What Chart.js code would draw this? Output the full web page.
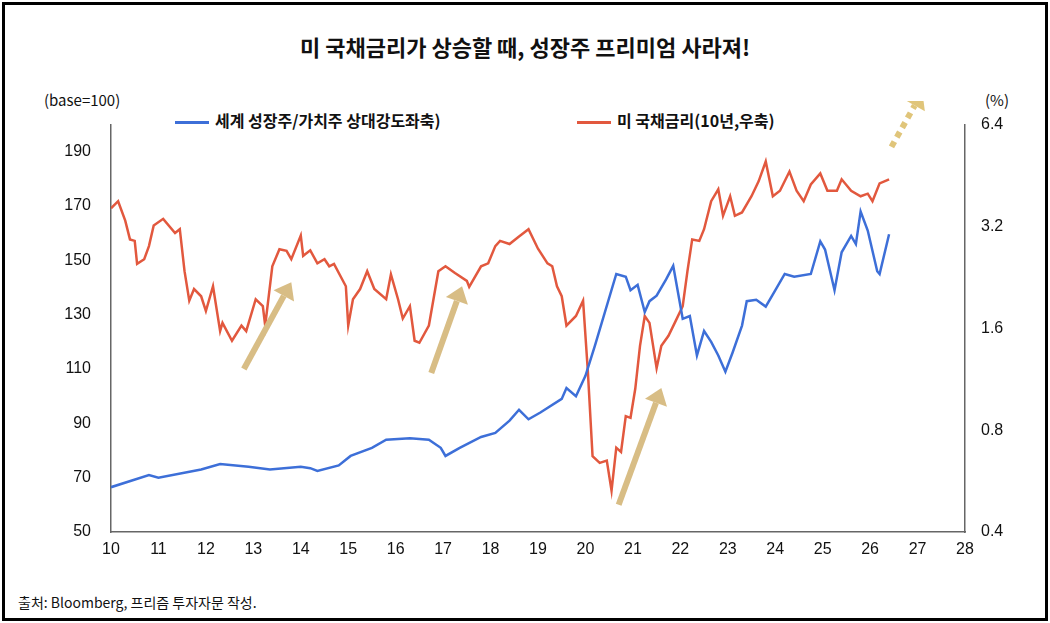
<!DOCTYPE html>
<html>
<head>
<meta charset="utf-8">
<script src="https://cdn.jsdelivr.net/npm/chart.js@4"></script>
<style>
  body { margin: 0; background: #fff; font-family: "Noto Sans CJK KR", "Noto Sans", sans-serif; }
  #frame { position: absolute; left: 2px; top: 2px; width: 1040px; height: 613px; border: 3px solid #000; }
  .txt { position: absolute; color: #111; white-space: nowrap; }
  #title { left: 0; width: 1050px; top: 30px; text-align: center; font-size: 22px; font-weight: bold; }
  #chartBox { position: absolute; left: 0; top: 101px; width: 1050px; height: 461px; }
  .leg { position: absolute; top: 108px; font-size: 16px; font-weight: bold; }
  .leg i { display: inline-block; width: 34px; height: 3px; vertical-align: middle; margin-right: 6px; }
</style>
</head>
<body>
<div id="frame"></div>
<div id="title" class="txt">미 국채금리가 상승할 때, 성장주 프리미엄 사라져!</div>
<div class="txt" style="left:44px;top:89px;font-size:15px">(base=100)</div>
<div class="txt" style="left:985px;top:89px;font-size:15px">(%)</div>
<div class="txt leg" style="left:175px"><i style="background:#3d6fd8"></i>세계 성장주/가치주 상대강도좌축)</div>
<div class="txt leg" style="left:577px"><i style="background:#e2583e"></i>미 국채금리(10년,우축)</div>
<div class="txt" style="left:18px;top:592px;font-size:14px">출처: Bloomberg, 프리즘 투자자문 작성.</div>
<div id="chartBox"><canvas id="c"></canvas></div>
<script>
const growthYears = [10.0, 10.8, 11.0, 11.9, 12.3, 12.9, 13.35, 14.0, 14.2, 14.35, 14.8, 15.05, 15.5, 15.8, 16.3, 16.7, 16.95, 17.05, 17.35, 17.8, 18.1, 18.4, 18.6, 18.8, 19.05, 19.5, 19.6, 19.8, 20.0, 20.2, 20.65, 20.85, 20.95, 21.1, 21.25, 21.35, 21.5, 21.7, 21.85, 22.05, 22.2, 22.35, 22.5, 22.65, 22.8, 22.95, 23.1, 23.3, 23.4, 23.6, 23.8, 24.0, 24.2, 24.4, 24.75, 24.95, 25.05, 25.25, 25.4, 25.6, 25.7, 25.8, 25.95, 26.15, 26.2, 26.4];
const growthValues = [66.5, 71, 70, 73, 75, 74, 73, 74, 73.5, 72.5, 74.5, 78, 81, 84, 84.5, 84, 81, 78, 81, 85, 86.5, 91, 95, 91.5, 94, 99, 103, 100, 107.5, 118.6, 145, 144, 139, 141, 131, 135, 137, 143, 148, 128.5, 129.5, 115, 124, 120, 115, 109, 116, 126, 135, 135.5, 133, 139, 145, 144, 145, 157, 154, 139, 153, 159, 156, 168, 161, 146, 145, 159.6];

const rateYears = [10.0, 10.15, 10.3, 10.4, 10.5, 10.55, 10.7, 10.8, 10.9, 11.1, 11.35, 11.45, 11.55, 11.65, 11.75, 11.9, 12.0, 12.15, 12.3, 12.35, 12.55, 12.75, 12.85, 13.05, 13.2, 13.25, 13.4, 13.55, 13.7, 13.8, 14.0, 14.05, 14.2, 14.35, 14.5, 14.6, 14.7, 14.95, 15.0, 15.1, 15.25, 15.4, 15.55, 15.8, 15.9, 16.05, 16.15, 16.3, 16.4, 16.5, 16.7, 16.9, 17.05, 17.25, 17.5, 17.55, 17.8, 17.95, 18.1, 18.2, 18.4, 18.6, 18.8, 19.0, 19.2, 19.3, 19.4, 19.5, 19.6, 19.8, 19.95, 20.05, 20.15, 20.3, 20.45, 20.55, 20.65, 20.75, 20.85, 20.95, 21.05, 21.15, 21.25, 21.35, 21.5, 21.6, 21.75, 21.9, 22.05, 22.15, 22.25, 22.4, 22.5, 22.65, 22.8, 22.9, 23.05, 23.15, 23.3, 23.5, 23.65, 23.8, 23.95, 24.1, 24.3, 24.45, 24.6, 24.75, 24.95, 25.1, 25.3, 25.4, 25.6, 25.8, 25.95, 26.05, 26.2, 26.4];
const rateValues = [3.62, 3.80, 3.33, 2.93, 2.90, 2.48, 2.56, 2.80, 3.22, 3.37, 3.06, 3.14, 2.36, 1.93, 2.09, 1.99, 1.80, 2.13, 1.57, 1.66, 1.47, 1.63, 1.57, 1.95, 1.86, 1.63, 2.44, 2.74, 2.71, 2.56, 3.01, 2.62, 2.72, 2.49, 2.56, 2.44, 2.48, 2.13, 1.63, 1.95, 2.09, 2.36, 2.09, 1.95, 2.31, 1.95, 1.71, 1.86, 1.47, 1.45, 1.63, 2.36, 2.44, 2.33, 2.21, 2.12, 2.44, 2.49, 2.80, 2.90, 2.84, 2.99, 3.14, 2.75, 2.49, 2.44, 2.13, 1.99, 1.63, 1.74, 1.93, 1.20, 0.67, 0.64, 0.65, 0.53, 0.71, 0.69, 0.88, 0.87, 1.06, 1.42, 1.74, 1.66, 1.22, 1.42, 1.52, 1.68, 1.86, 2.36, 2.93, 2.90, 3.14, 3.80, 4.12, 3.44, 3.93, 3.44, 3.52, 3.93, 4.35, 4.98, 3.93, 4.08, 4.65, 4.08, 3.80, 4.26, 4.59, 4.08, 4.08, 4.41, 4.08, 3.93, 4.00, 3.80, 4.29, 4.41];

const xTicks = [10, 11, 12, 13, 14, 15, 16, 17, 18, 19, 20, 21, 22, 23, 24, 25, 26, 27, 28];
const rateTicks = [0.4, 0.8, 1.6, 3.2, 6.4];

// arrows in data units of the left axis: [x0, y0, x1, y1]
const upArrows = [[12.8, 110, 13.8, 142], [16.75, 108.5, 17.4, 140.5], [20.7, 60, 21.6, 103]];
const dottedArrow = [26.45, 5.5, 27.1, 8.0]; // right axis units

const drawArrow = (ctx, x0, y0, x1, y1, color, width, dash) => {
    const ang = Math.atan2(y1 - y0, x1 - x0);
    const head = width * 2.6;
    const bx = x1 - Math.cos(ang) * head, by = y1 - Math.sin(ang) * head;
    ctx.save();
    ctx.strokeStyle = color;
    ctx.fillStyle = color;
    ctx.lineWidth = width;
    ctx.setLineDash(dash || []);
    ctx.beginPath();
    ctx.moveTo(x0, y0);
    ctx.lineTo(bx, by);
    ctx.stroke();
    ctx.setLineDash([]);
    ctx.beginPath();
    ctx.moveTo(x1, y1);
    ctx.lineTo(bx + Math.cos(ang + Math.PI / 2) * head * 0.75, by + Math.sin(ang + Math.PI / 2) * head * 0.75);
    ctx.lineTo(bx + Math.cos(ang - Math.PI / 2) * head * 0.75, by + Math.sin(ang - Math.PI / 2) * head * 0.75);
    ctx.closePath();
    ctx.fill();
    ctx.restore();
};

const arrowPlugin = {
    id: 'arrows',
    afterDatasetsDraw(chart) {
        const { ctx, scales } = chart;
        upArrows.forEach(a => {
            drawArrow(ctx, scales.x.getPixelForValue(a[0]), scales.y.getPixelForValue(a[1]),
                scales.x.getPixelForValue(a[2]), scales.y.getPixelForValue(a[3]), '#d8bd85', 6);
        });
        const d = dottedArrow;
        drawArrow(ctx, scales.x.getPixelForValue(d[0]), scales.y2.getPixelForValue(d[1]),
            scales.x.getPixelForValue(d[2]), scales.y2.getPixelForValue(d[3]), '#e0c57a', 6, [6, 5]);
    }
};

const toPoints = (xs, ys) => xs.map((x, i) => ({ x: x, y: ys[i] }));
const tickFont = { family: 'Liberation Sans', size: 16 };

new Chart(document.getElementById('c'), {
    type: 'line',
    data: {
        datasets: [{
            label: '세계 성장주/가치주 상대강도좌축)',
            data: toPoints(growthYears, growthValues),
            borderColor: '#3d6fd8',
            borderWidth: 2.5,
            pointRadius: 0,
            yAxisID: 'y'
        }, {
            label: '미 국채금리(10년,우축)',
            data: toPoints(rateYears, rateValues),
            borderColor: '#e2583e',
            borderWidth: 2.5,
            pointRadius: 0,
            yAxisID: 'y2'
        }]
    },
    options: {
        responsive: true,
        maintainAspectRatio: false,
        animation: false,
        layout: { padding: { top: 10, left: 0, right: 0, bottom: 0 } },
        plugins: { legend: { display: false }, tooltip: { enabled: false } },
        scales: {
            x: {
                type: 'linear', min: 10, max: 28,
                afterBuildTicks: s => { s.ticks = xTicks.map(v => ({ value: v })); },
                afterFit: s => { s.height = 30; },
                grid: { display: false, drawTicks: true, tickLength: 6, tickColor: '#555' },
                border: { color: '#666', width: 1.5 },
                ticks: { color: '#111', font: tickFont, padding: 2 }
            },
            y: {
                position: 'left', min: 50, max: 200,
                afterBuildTicks: s => { s.ticks = [50, 70, 90, 110, 130, 150, 170, 190].map(v => ({ value: v })); },
                afterFit: s => { s.width = 111; },
                grid: { display: false, tickLength: 6, tickColor: '#555' },
                border: { color: '#666', width: 1.5 },
                ticks: { color: '#111', font: tickFont, padding: 14 }
            },
            y2: {
                type: 'logarithmic', position: 'right', min: 0.4, max: 6.4,
                afterBuildTicks: s => { s.ticks = rateTicks.map(v => ({ value: v })); },
                afterFit: s => { s.width = 85; },
                grid: { display: false, tickLength: 6, tickColor: '#555' },
                border: { color: '#666', width: 1.5 },
                ticks: { color: '#111', font: tickFont, padding: 10, callback: v => v.toFixed(1) }
            }
        }
    },
    plugins: [arrowPlugin]
});
</script>
</body>
</html>
